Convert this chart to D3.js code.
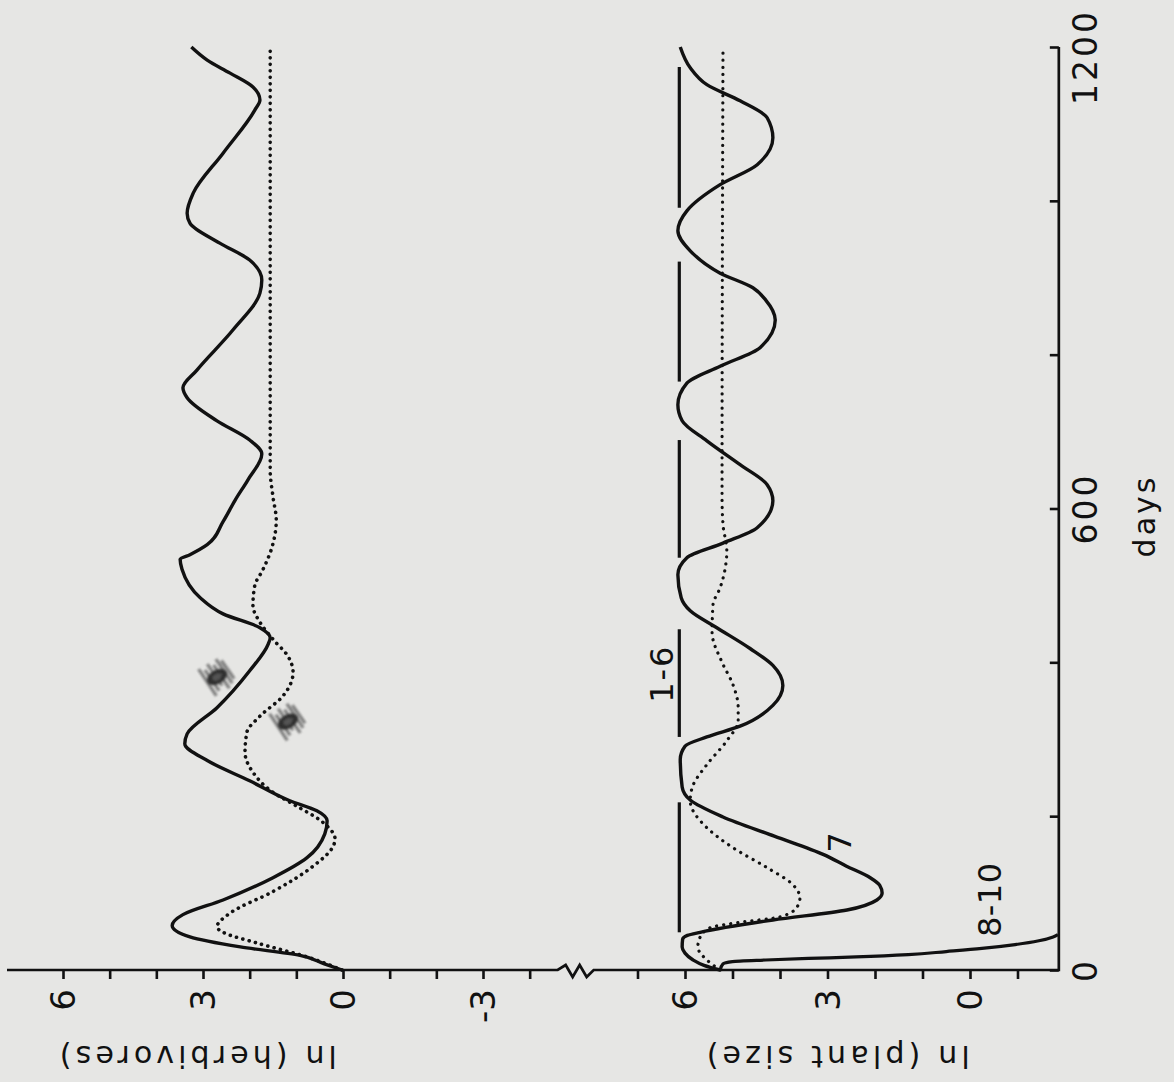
<!DOCTYPE html>
<html><head><meta charset="utf-8">
<script src="https://cdn.jsdelivr.net/npm/d3@7"></script>
<style>html,body{margin:0;padding:0;background:#e6e6e4;} svg{display:block}</style>
</head><body><svg id="c" width="1174" height="1082"></svg>
<script>
// ---------- data ----------
const dayTicks = [0, 200, 400, 600, 800, 1000, 1200];
const dayLabels = [0, 600, 1200];
const herbTicks = [6, 5, 4, 3, 2, 1, 0, -1, -2, -3, -4];
const herbLabels = [6, 3, 0, -3];
const plantTicks = [7, 6, 5, 4, 3, 2, 1, 0, -1];
const plantLabels = [6, 3, 0];

// [day, ln value]
const herbSolid = [[0,0.02],[8,0.4],[19,0.92],[30,2.2],[43,3.28],[58,3.66],[72,3.43],[91,2.57],[120,1.5],[146,0.77],[177,0.39],[194,0.34],[207,0.56],[220,1.14],[246,2.0],[272,2.9],[294,3.39],[307,3.34],[341,2.7],[389,2.0],[424,1.6],[432,1.56],[445,1.78],[463,2.57],[484,3.06],[521,3.45],[534,3.49],[540,3.28],[553,2.91],[583,2.57],[611,2.31],[637,2.04],[671,1.74],[689,2.0],[714,2.7],[744,3.34],[757,3.43],[780,3.13],[832,2.36],[880,1.78],[897,1.74],[923,2.0],[945,2.64],[971,3.28],[984,3.34],[1010,3.21],[1062,2.57],[1118,1.89],[1131,1.78],[1148,1.93],[1166,2.42],[1183,2.91],[1200,3.25]];
const herbDotted = [[0,0.02],[17,0.77],[35,1.84],[49,2.57],[56,2.7],[74,2.42],[102,1.5],[135,0.64],[161,0.21],[170,0.17],[192,0.43],[213,0.99],[231,1.5],[257,1.93],[283,2.1],[309,2.06],[330,1.78],[356,1.29],[387,1.07],[408,1.18],[430,1.5],[452,1.78],[474,1.93],[500,1.89],[520,1.72],[550,1.52],[585,1.43],[615,1.5],[650,1.56],[1200,1.56]];
const plantSolid7 = [[0,5.26],[6,5.6],[13,5.83],[22,6.0],[30,6.06],[40,6.05],[45,5.95],[49,5.68],[65,4.15],[78,2.59],[91,1.96],[100,1.85],[110,1.9],[120,2.1],[135,2.6],[150,3.08],[174,4.12],[199,5.2],[221,5.89],[238,6.06],[274,6.1],[291,6.0],[303,5.54],[317,4.84],[344,4.15],[370,3.94],[396,4.15],[418,4.63],[445,5.33],[467,5.89],[484,6.08],[514,6.15],[536,5.96],[555,5.2],[575,4.48],[610,4.15],[631,4.27],[657,4.84],[688,5.54],[714,6.06],[735,6.15],[763,5.96],[785,5.26],[809,4.42],[845,4.1],[871,4.3],[887,4.57],[906,5.26],[935,5.89],[961,6.15],[987,5.96],[1021,5.26],[1047,4.48],[1082,4.15],[1108,4.27],[1130,4.84],[1151,5.54],[1173,5.89],[1200,6.1]];
const plantDotted = [[0,5.26],[13,5.54],[30,5.73],[43,5.68],[55,5.47],[62,4.84],[69,4.0],[82,3.64],[94,3.58],[111,3.73],[133,4.27],[159,4.99],[185,5.54],[220,5.89],[237,5.85],[267,5.54],[298,5.12],[324,4.88],[341,4.88],[371,4.99],[400,5.22],[439,5.43],[475,5.41],[497,5.26],[545,5.12],[579,5.2],[614,5.22],[1200,5.2]];
const plant810 = [[0,5.26],[8,5.2],[11,5.0],[13,4.3],[15,3.4],[17,2.4],[20,1.3],[24,0.5],[28,-0.25],[33,-0.95],[38,-1.45],[43,-1.75],[46,-1.85]];
const plant16Value = 6.12;
const plant16Segments = [[49,218],[303,443],[536,689],[765,921],[991,1174]];
const curveLabels = [
  {text: "1-6", day: 384, v: 6.5, len: 56},
  {text: "7", day: 166, v: 2.74, len: 0},
  {text: "8-10", day: 91, v: -0.42, len: 74}
];
const smudges = [[381, 2.7], [323, 1.18]];

// ---------- scales ----------
const W = 1174, H = 1082;
const svg = d3.select("#c");
const y = d3.scaleLinear().domain([0, 1200]).range([970, 47]);
const xH = d3.scaleLinear().domain([0, 6]).range([343, 63]);
const xP = d3.scaleLinear().domain([0, 6]).range([970, 685]);
const herbExtent = [7.2, -4.6];
const plantExtent = [7.9, -1.87];
const ink = "#111";
const FONT = "DejaVu Sans, Liberation Sans, sans-serif";

svg.append("rect").attr("width", W).attr("height", H).attr("fill", "#e6e6e4");

// ---------- axes ----------
const axisY0 = y(0);
const bx0 = xH(herbExtent[1]);
svg.append("path")
  .attr("d", `M${xH(herbExtent[0])},${axisY0} L${bx0},${axisY0} l8,-5 l7,12 l7,-12 l7,12 l7,-7 L${xP(plantExtent[1])},${axisY0} L${xP(plantExtent[1])},${y(1200)}`)
  .attr("fill", "none").attr("stroke", ink).attr("stroke-width", 2.7).attr("stroke-linejoin", "miter");

const gH = svg.append("g").attr("transform", `translate(0,${axisY0})`)
  .call(d3.axisBottom(xH).tickValues(herbTicks).tickSize(9).tickFormat(""));
const gP = svg.append("g").attr("transform", `translate(0,${axisY0})`)
  .call(d3.axisBottom(xP).tickValues(plantTicks).tickSize(9).tickFormat(""));
const gD = svg.append("g").attr("transform", `translate(${xP(plantExtent[1])},0)`)
  .call(d3.axisLeft(y).tickValues(dayTicks).tickSize(9).tickFormat(""));
[gH, gP, gD].forEach(g => {
  g.select(".domain").remove();
  g.selectAll(".tick line").attr("stroke", ink).attr("stroke-width", 2.6);
});

// tick labels (rotated, reading bottom-to-top)
svg.selectAll("text.hl").data(herbLabels).join("text")
  .attr("transform", d => `translate(${xH(d)},989) rotate(-90)`)
  .attr("dy", "0.36em").attr("text-anchor", "end")
  .attr("font-family", FONT).attr("font-size", 34).attr("fill", ink)
  .text(d => d);
svg.selectAll("text.pl").data(plantLabels).join("text")
  .attr("transform", d => `translate(${xP(d)},989) rotate(-90)`)
  .attr("dy", "0.36em").attr("text-anchor", "end")
  .attr("font-family", FONT).attr("font-size", 34).attr("fill", ink)
  .text(d => d);
svg.selectAll("text.dl").data(dayLabels).join("text")
  .attr("transform", d => `translate(1085,${Math.max(y(d), 57)}) rotate(-90)`)
  .attr("dy", "0.36em").attr("text-anchor", "middle")
  .attr("font-family", FONT).attr("font-size", 33).attr("fill", ink)
  .attr("letter-spacing", 3)
  .text(d => d);

// axis titles
svg.append("text").attr("transform", `translate(1155,516) rotate(-90)`)
  .attr("text-anchor", "middle").attr("font-family", FONT).attr("font-size", 30).attr("fill", ink)
  .attr("letter-spacing", 3).text("days");
svg.append("text").attr("transform", `translate(${(xH(6.2)+xH(0))/2},1046) rotate(180)`)
  .attr("text-anchor", "middle").attr("font-family", FONT).attr("font-size", 30).attr("fill", ink)
  .attr("textLength", 277).attr("lengthAdjust", "spacing").text("ln (herbivores)");
svg.append("text").attr("transform", `translate(${(xP(5.55)+xP(0))/2},1046) rotate(180)`)
  .attr("text-anchor", "middle").attr("font-family", FONT).attr("font-size", 30).attr("fill", ink)
  .attr("textLength", 263).attr("lengthAdjust", "spacing").text("ln (plant size)");

// ---------- curves ----------
const lineH = d3.line().x(d => xH(d[1])).y(d => y(d[0])).curve(d3.curveMonotoneY);
const lineP = d3.line().x(d => xP(d[1])).y(d => y(d[0])).curve(d3.curveMonotoneY);

svg.append("path").attr("d", lineH(herbDotted)).attr("fill", "none").attr("stroke", ink)
  .attr("stroke-width", 3.6).attr("stroke-linecap", "round").attr("stroke-dasharray", "0.1 6.4");
svg.append("path").attr("d", lineH(herbSolid)).attr("fill", "none").attr("stroke", ink)
  .attr("stroke-width", 3.4).attr("stroke-linejoin", "round");

svg.append("path").attr("d", lineP(plantDotted)).attr("fill", "none").attr("stroke", ink)
  .attr("stroke-width", 3.2).attr("stroke-linecap", "round").attr("stroke-dasharray", "0.1 7");
svg.append("path").attr("d", lineP(plantSolid7)).attr("fill", "none").attr("stroke", ink)
  .attr("stroke-width", 3.4).attr("stroke-linejoin", "round");
svg.append("path").attr("d", lineP(plant810)).attr("fill", "none").attr("stroke", ink)
  .attr("stroke-width", 3.2).attr("stroke-linejoin", "round");

svg.selectAll("line.seg").data(plant16Segments).join("line")
  .attr("x1", xP(plant16Value)).attr("x2", xP(plant16Value))
  .attr("y1", d => y(d[0])).attr("y2", d => y(d[1]))
  .attr("stroke", ink).attr("stroke-width", 3.2);

svg.selectAll("text.cl").data(curveLabels).join("text")
  .attr("transform", d => `translate(${xP(d.v)},${y(d.day)}) rotate(-90)`)
  .attr("dy", "0.36em").attr("text-anchor", "middle")
  .attr("font-family", FONT).attr("font-size", 32).attr("fill", ink)
  .each(function(d){ if (d.len) d3.select(this).attr("textLength", d.len).attr("lengthAdjust", "spacing"); })
  .text(d => d.text);

// ---------- pencil smudges ----------
const defs = svg.append("defs");
defs.append("filter").attr("id", "blur").append("feGaussianBlur").attr("stdDeviation", 1.2);
smudges.forEach(s => {
  const g = svg.append("g").attr("transform", `translate(${xH(s[1])},${y(s[0])}) rotate(-30)`)
    .attr("filter", "url(#blur)");
  [-12, -7, -2, 3, 8, 12].forEach((o, i) => {
    g.append("line").attr("x1", o).attr("y1", -16 + (i % 2) * 4).attr("x2", o + 2).attr("y2", 16 - (i % 3) * 3)
      .attr("stroke", "#555").attr("stroke-width", 3).attr("opacity", 0.75);
  });
  g.append("ellipse").attr("rx", 11).attr("ry", 7).attr("fill", "#222").attr("opacity", 0.9);
  g.append("ellipse").attr("rx", 5).attr("ry", 3).attr("fill", "#555");
});
</script></body></html>
